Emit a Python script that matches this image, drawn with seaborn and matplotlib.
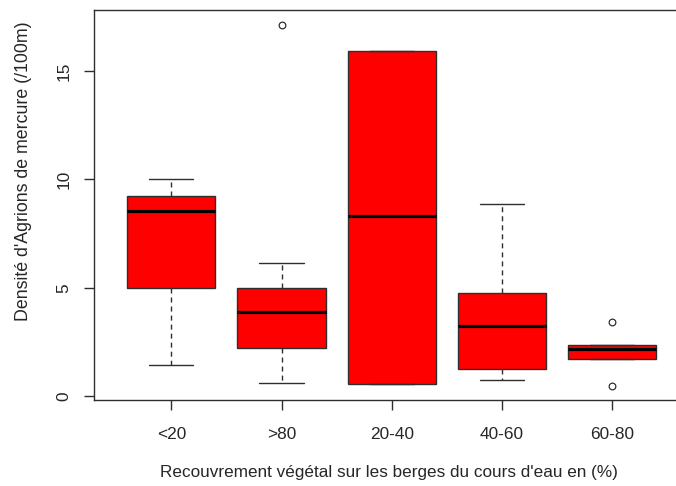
import matplotlib
matplotlib.use("Agg")
import matplotlib.pyplot as plt
import seaborn as sns
import pandas as pd

# Vegetation cover classes on the stream banks (%)
categories = ["<20", ">80", "20-40", "40-60", "60-80"]

# Damselfly density (individuals per 100 m) per cover class
dens_lt20 = [1.45, 5.0, 8.55, 9.25, 10.0]
dens_gt80 = [0.6, 2.2, 2.2, 3.9, 3.9, 5.0, 5.0, 6.15, 17.15]
dens_20_40 = [0.55, 0.55, 8.3, 15.95, 15.95]
dens_40_60 = [0.75, 1.25, 3.25, 4.75, 8.85]
dens_60_80 = [0.45, 1.72, 1.72, 2.15, 2.15, 2.38, 2.38, 2.38, 3.4]

y_ticks = [0, 5, 10, 15]

sns.set_style("white")
plt.rcParams["font.family"] = ["Liberation Sans", "DejaVu Sans"]

groups = [dens_lt20, dens_gt80, dens_20_40, dens_40_60, dens_60_80]
df = pd.DataFrame({
    "cover": [c for c, g in zip(categories, groups) for _ in g],
    "density": [v for g in groups for v in g],
})

ink = "#2e2e2e"
text_col = "#262626"

fig = plt.figure(figsize=(6.76, 4.86), dpi=100)
# the plotting region runs past the right edge of the canvas
ax = fig.add_axes([0.1395, 0.1770, 0.8797, 0.8015])

sns.boxplot(
    data=df, x="cover", y="density", order=categories, ax=ax,
    color="#ff0000", saturation=1, width=0.8, whis=1.5,
    linecolor=ink, linewidth=1.0,
    medianprops=dict(color="black", linewidth=2.3),
    whiskerprops=dict(linestyle=(0, (3.6, 2.9))),
    capprops=dict(linewidth=1.0),
    flierprops=dict(marker="o", markersize=4.8, markerfacecolor="none",
                    markeredgecolor=ink, markeredgewidth=0.9),
)

ax.set_xlim(-0.7, 4.7)
ax.set_ylim(-0.18, 17.8)
ax.set_yticks(y_ticks)
ax.set_yticklabels([str(t) for t in y_ticks], rotation=90, va="center")

ax.tick_params(axis="both", which="major", bottom=True, left=True,
               direction="out", length=7, width=1.0, color=ink,
               labelsize=12.4, labelcolor=text_col)
ax.tick_params(axis="x", pad=12.5)
ax.tick_params(axis="y", pad=9.5)

for side in ["left", "top", "bottom"]:
    ax.spines[side].set_visible(True)
    ax.spines[side].set_color(ink)
    ax.spines[side].set_linewidth(1.0)
ax.spines["right"].set_visible(False)

ax.set_xlabel("Recouvrement végétal sur les berges du cours d'eau en (%)",
              fontsize=12.3, color=text_col)
ax.set_ylabel("Densité d'Agrions de mercure (/100m)",
              fontsize=12.8, color=text_col)
ax.xaxis.set_label_coords(0.495, -0.168)
ax.yaxis.set_label_coords(-0.1056, 0.587)

fig.savefig("out.png", dpi=100)
